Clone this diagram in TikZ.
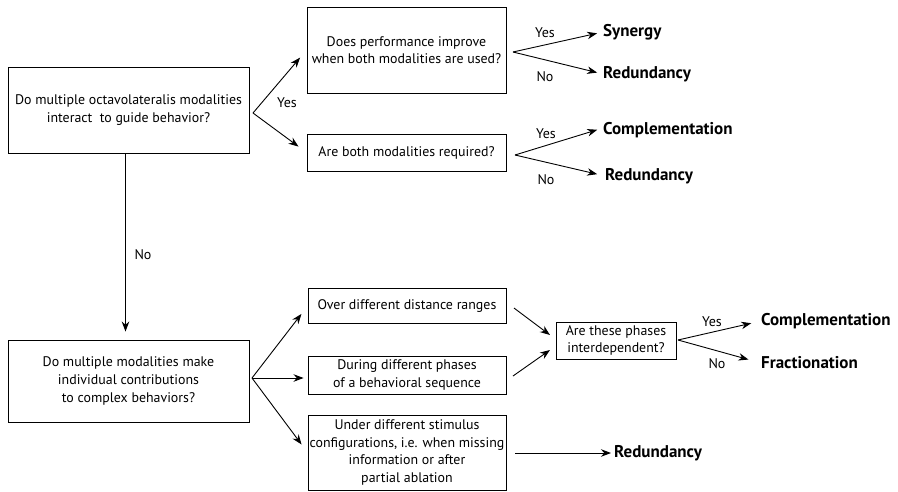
\documentclass[tikz,border=0pt]{standalone}
\usepackage{fontspec}
\setmainfont{PT Sans}
\usetikzlibrary{arrows.meta,calc}
\begin{document}
\begin{tikzpicture}[x=1pt,y=-1pt,
  box/.style={draw, line width=0.9pt, align=center, inner sep=0pt, font=\fontsize{13.9}{17.6}\selectfont},
  res/.style={anchor=west, inner sep=0pt, font=\fontsize{17}{19}\selectfont\bfseries},
  lab/.style={inner sep=0pt, font=\fontsize{14}{16}\selectfont},
  arr/.style={-{Stealth[length=10pt,width=7.5pt]}, line width=0.9pt},
  ln/.style={line width=0.9pt}]
\useasboundingbox (0,0) rectangle (898,491);
% boxes
\node[box, minimum width=241, minimum height=86] (A) at (128.5,110) {Do multiple octavolateralis modalities\\interact\ \ to guide behavior?};
\node[box, minimum width=199, minimum height=86] (B) at (406.5,50) {Does performance improve\\when both modalities are used?};
\node[box, minimum width=199, minimum height=37] (C) at (406.5,152.5) {Are both modalities required?};
\node[box, minimum width=241, minimum height=82] (D) at (128.5,381) {Do multiple modalities make\\individual contributions\\to complex behaviors?};
\node[box, minimum width=198, minimum height=35] (E) at (407,306) {Over different distance ranges};
\node[box, minimum width=198, minimum height=38] (F) at (407,375) {During different phases\\of a behavioral sequence};
\node[box, minimum width=198, minimum height=75] (G) at (407,452.5) {Under different stimulus\\configurations, i.e. when missing\\information or after\\partial ablation};
\node[box, minimum width=120, minimum height=37] (H) at (616,340.5) {Are these phases\\interdependent?};
% results
\node[res] (R1) at (603,32) {Synergy};
\node[res] (R2) at (603,74) {Redundancy};
\node[res] (R3) at (603,130) {Complementation};
\node[res] (R4) at (605,176) {Redundancy};
\node[res] (R5) at (761,321) {Complementation};
\node[res] (R6) at (761,363) {Fractionation};
\node[res] (R7) at (614,453) {Redundancy};
% labels
\node[lab] (yA) at (287,103) {Yes};
\node[lab] (nA) at (143,255) {No};
\node[lab] (yB) at (545,33) {Yes};
\node[lab] (nB) at (545,77) {No};
\node[lab] (yC) at (546,134) {Yes};
\node[lab] (nC) at (546,180) {No};
\node[lab] (yH) at (712,322) {Yes};
\node[lab] (nH) at (717,364) {No};
% fork points
\coordinate (vA) at (253,113);
\coordinate (vB) at (513,52);
\coordinate (vC) at (515,155);
\coordinate (vD) at (252,378);
\coordinate (vH) at (678,340);
\coordinate (e1) at (514,308);
\coordinate (f1) at (513,376);
\coordinate (h1) at (550,335);
\coordinate (h2) at (550,350);
\coordinate (g1) at (515,453);
% connectors
\draw[arr, shorten >=10pt] (vA) -- (B.west);
\draw[arr, shorten >=10pt] (vA) -- (C.west);
\draw[arr, shorten >=6pt] (vB) -- (R1.west);
\draw[arr, shorten >=6pt] (vB) -- (R2.west);
\draw[arr, shorten >=6pt] (vC) -- ([yshift=2]R3.west);
\draw[arr, shorten >=8pt] (vC) -- (R4.west);
\draw[arr, shorten >=8pt] ([xshift=-3]A.south) -- ([xshift=-3]D.north);
\draw[arr, shorten >=10pt] (vD) -- (E.west);
\draw[arr, shorten >=4pt] (vD) -- (vD -| F.west);
\draw[arr, shorten >=10pt] (vD) -- (G.west);
\draw[arr] (e1) -- (h1);
\draw[arr] (f1) -- (h2);
\draw[arr, shorten >=10pt] (vH) -- (R5.west);
\draw[arr, shorten >=13pt] (vH) -- (R6.west);
\draw[arr, shorten >=3pt] (g1) -- (R7.west);
\end{tikzpicture}
\end{document}
